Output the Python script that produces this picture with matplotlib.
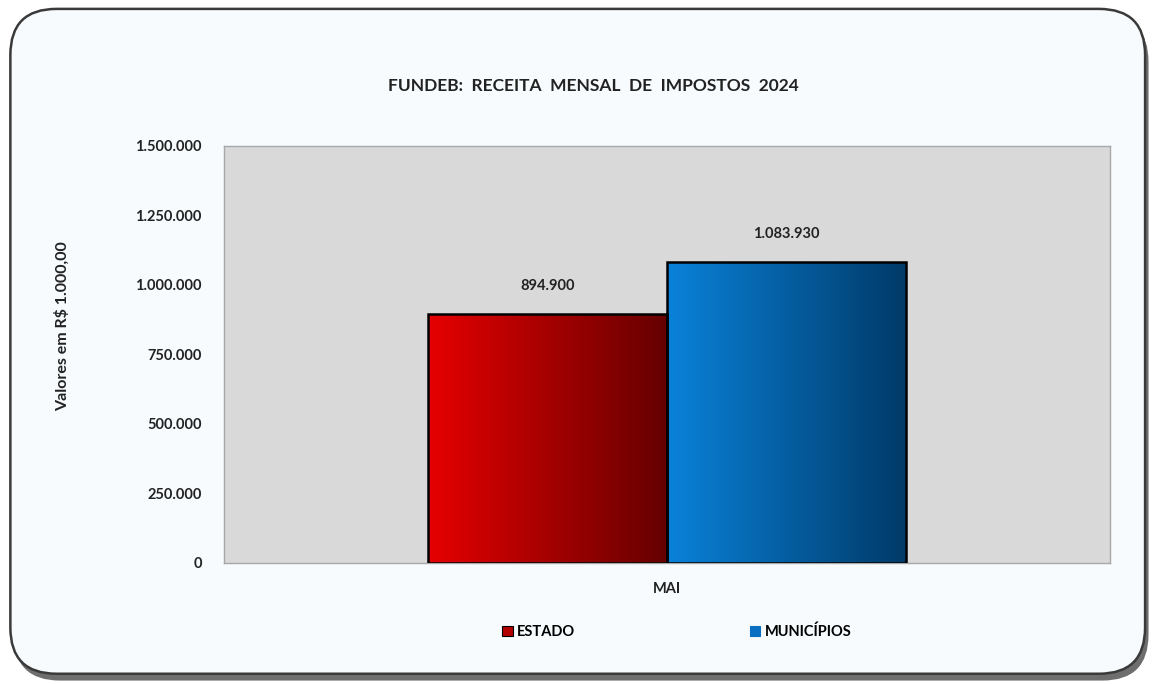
import numpy as np
import matplotlib
matplotlib.use("Agg")
import matplotlib.pyplot as plt
from matplotlib.patches import FancyBboxPatch
from matplotlib.ticker import FuncFormatter
from matplotlib.colors import LinearSegmentedColormap

# Data
month = "MAI"
series_names = ["ESTADO", "MUNICÍPIOS"]
values = [894900, 1083930]
value_labels = ["894.900", "1.083.930"]
y_ticks = [0, 250000, 500000, 750000, 1000000, 1250000, 1500000]

grad_colors = [("#E60000", "#650000"), ("#0A82DA", "#003A68")]
legend_colors = ["#B00000", "#0A6FC0"]

plt.rcParams["font.family"] = ["Lato", "DejaVu Sans"]
plt.rcParams["font.weight"] = "bold"

fig = plt.figure(figsize=(11.52, 6.84), dpi=100)
fig.patch.set_facecolor("white")

# rounded frame with shadow
shadow = FancyBboxPatch((0.012, 0.005), 0.985, 0.972,
                        boxstyle="round,pad=0,rounding_size=0.04",
                        transform=fig.transFigure, facecolor="#6E6E6E",
                        edgecolor="none", mutation_aspect=11.52 / 6.84, zorder=0)
frame = FancyBboxPatch((0.009, 0.015), 0.985, 0.972,
                       boxstyle="round,pad=0,rounding_size=0.04",
                       transform=fig.transFigure, facecolor="#F7FBFD",
                       edgecolor="#3A3A3A", linewidth=1.8,
                       mutation_aspect=11.52 / 6.84, zorder=1)
fig.patches.extend([shadow, frame])

ax = fig.add_axes([224 / 1152, 1 - 563 / 684, 886 / 1152, 417 / 684])
ax.set_facecolor("#D9D9D9")
ax.set_zorder(2)

width = 0.27
xs = [-width / 2, width / 2]
bars = ax.bar(xs, values, width=width, color="none", edgecolor="black",
              linewidth=1.8, zorder=3)

for bar, (c0, c1) in zip(bars, grad_colors):
    cmap = LinearSegmentedColormap.from_list("g", [c0, c1])
    x0, y0 = bar.get_x(), 0
    x1, y1 = x0 + bar.get_width(), bar.get_height()
    img = ax.imshow(np.linspace(0, 1, 256).reshape(1, -1), cmap=cmap,
                    extent=[x0, x1, y0, y1], aspect="auto", zorder=2)
    img.set_clip_path(bar)

for x, v, lab in zip(xs, values, value_labels):
    ax.text(x, v + 75000, lab, ha="center", va="bottom", fontsize=10.5,
            color="#222222", fontweight="bold")

ax.set_xlim(-0.5, 0.5)
ax.set_ylim(0, 1500000)
ax.set_yticks(y_ticks)
ax.yaxis.set_major_formatter(FuncFormatter(lambda v, p: f"{int(v):,}".replace(",", ".")))
ax.set_xticks([0])
ax.set_xticklabels([month])
ax.tick_params(length=0, labelsize=10.5, colors="#222222")
ax.tick_params(axis="y", pad=16)
ax.tick_params(axis="x", pad=14)
for s in ax.spines.values():
    s.set_color("#A8A8A8")
    s.set_linewidth(1.0)

ax.set_ylabel("Valores em R$ 1.000,00", fontsize=11.5, color="#222222",
              fontweight="bold")
ax.yaxis.set_label_coords(-(224 - 70) / 886, (563 - 326) / 417)

fig.text(593 / 1152, 1 - 86 / 684, "FUNDEB:  RECEITA  MENSAL  DE  IMPOSTOS  2024",
         ha="center", va="center", fontsize=12.5, fontweight="bold", color="#222222")

# legend
handles = [plt.Rectangle((0, 0), 1, 1, facecolor=c, edgecolor="black", linewidth=0.8)
           for c in legend_colors]
handles[1].set_edgecolor(legend_colors[1])
fig.legend(handles, series_names, loc="center", bbox_to_anchor=(677 / 1152, 1 - 632 / 684),
           ncol=2, frameon=False, fontsize=10.5, handlelength=0.7, handleheight=0.7,
           handletextpad=0.3, columnspacing=12)

fig.savefig("out.png", dpi=100)
